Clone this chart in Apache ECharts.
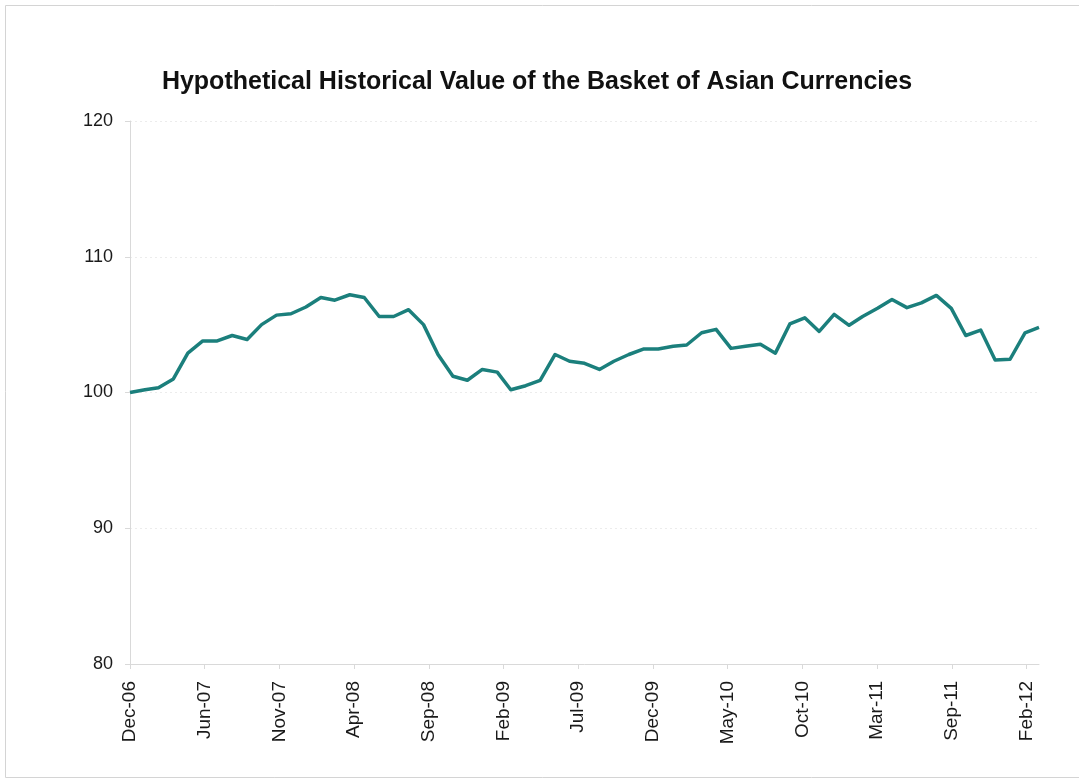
<!DOCTYPE html>
<html>
<head>
<meta charset="utf-8">
<title>Hypothetical Historical Value of the Basket of Asian Currencies</title>
<script src="https://cdn.jsdelivr.net/npm/echarts@6/dist/echarts.min.js"></script>
<style>
  html, body { margin: 0; padding: 0; background: #fff; }
  #chart { width: 1079px; height: 781px; }
</style>
</head>
<body>
<div id="chart"></div>
<script>
// monthly closing values, Dec-06 .. Feb-12
const months = [
  "2006-12",
  "2007-01", "2007-02", "2007-03", "2007-04", "2007-05", "2007-06",
  "2007-07", "2007-08", "2007-09", "2007-10", "2007-11", "2007-12",
  "2008-01", "2008-02", "2008-03", "2008-04", "2008-05", "2008-06",
  "2008-07", "2008-08", "2008-09", "2008-10", "2008-11", "2008-12",
  "2009-01", "2009-02", "2009-03", "2009-04", "2009-05", "2009-06",
  "2009-07", "2009-08", "2009-09", "2009-10", "2009-11", "2009-12",
  "2010-01", "2010-02", "2010-03", "2010-04", "2010-05", "2010-06",
  "2010-07", "2010-08", "2010-09", "2010-10", "2010-11", "2010-12",
  "2011-01", "2011-02", "2011-03", "2011-04", "2011-05", "2011-06",
  "2011-07", "2011-08", "2011-09", "2011-10", "2011-11", "2011-12",
  "2012-01", "2012-02"
];
const basketValues = [
  100.0,
  100.2, 100.35, 101.0, 102.9, 103.8, 103.8,
  104.2, 103.9, 105.0, 105.7, 105.8, 106.3,
  107.0, 106.8, 107.2, 107.0, 105.6, 105.6,
  106.1, 105.0, 102.8, 101.2, 100.9, 101.7,
  101.5, 100.2, 100.5, 100.9, 102.8, 102.3,
  102.15, 101.7, 102.3, 102.8, 103.2, 103.2,
  103.4, 103.5, 104.4, 104.65, 103.25, 103.4,
  103.55, 102.9, 105.05, 105.5, 104.5, 105.75,
  104.95, 105.6, 106.2, 106.85, 106.25, 106.6,
  107.15, 106.2, 104.2, 104.6, 102.4, 102.45,
  104.4, 104.8
];
// date axis: days counted from 31-Dec-2006, a tick every 155 days
const tickStepDays = 155;
const tickCount = 13;
const yTicks = [80, 90, 100, 110, 120];

const DAY = 86400000;
const origin = Date.UTC(2006, 11, 31);
const monthNames = ["Jan", "Feb", "Mar", "Apr", "May", "Jun", "Jul", "Aug", "Sep", "Oct", "Nov", "Dec"];

function monthEndDay(ym) {
  const parts = ym.split("-");
  const end = Date.UTC(+parts[0], +parts[1], 0);
  return Math.round((end - origin) / DAY);
}

function dayLabel(d) {
  const dt = new Date(origin + d * DAY);
  return monthNames[dt.getUTCMonth()] + "-" + String(dt.getUTCFullYear()).slice(2);
}

const seriesData = months.map((m, i) => [monthEndDay(m), basketValues[i]]);
const tickDays = [];
for (let i = 0; i < tickCount; i++) tickDays.push(i * tickStepDays);

window.addEventListener("load", function () {
  const chart = echarts.init(document.getElementById("chart"));
  const font = "'Liberation Sans', Arial, sans-serif";

  const option = {
    backgroundColor: "#fff",
    animation: false,
    textStyle: { fontFamily: font },
    title: {
      text: "Hypothetical Historical Value of the Basket of Asian Currencies",
      left: 532,
      top: 65,
      textAlign: "center",
      textStyle: { fontSize: 25, fontWeight: "bold", color: "#111", fontFamily: font },
    },
    graphic: [
      {
        type: "rect",
        shape: { x: 5.5, y: 5.5, width: 1085, height: 772 },
        style: { fill: "none", stroke: "#d4d4d4", lineWidth: 1 },
        silent: true,
      },
    ],
    grid: { left: 130, right: 40, top: 121, bottom: 117, containLabel: false },
    xAxis: {
      type: "value",
      min: 0,
      max: seriesData[seriesData.length - 1][0],
      interval: tickStepDays,
      axisLine: { show: true, lineStyle: { color: "#d9d9d9", width: 1 } },
      axisTick: { show: true, inside: false, length: 5, customValues: tickDays, lineStyle: { color: "#d9d9d9" } },
      splitLine: { show: false },
      axisLabel: {
        customValues: tickDays,
        rotate: 90,
        margin: 17,
        fontSize: 19,
        color: "#1a1a1a",
        fontFamily: font,
        formatter: (v) => dayLabel(v),
      },
    },
    yAxis: {
      type: "value",
      min: yTicks[0],
      max: yTicks[yTicks.length - 1],
      interval: 10,
      axisLine: { show: true, lineStyle: { color: "#d9d9d9", width: 1 } },
      axisTick: { show: true, inside: false, length: 5, lineStyle: { color: "#d9d9d9" } },
      splitLine: { show: true, lineStyle: { color: "#ececec", type: [2, 3], width: 1 } },
      axisLabel: { margin: 17, fontSize: 18, color: "#1a1a1a", fontFamily: font },
    },
    series: [
      {
        type: "line",
        data: seriesData,
        showSymbol: false,
        symbol: "none",
        lineStyle: { color: "#1b7f7c", width: 3.5, join: "round" },
        itemStyle: { color: "#1b7f7c" },
      },
    ],
  };
  chart.setOption(option);
});
</script>
</body>
</html>
